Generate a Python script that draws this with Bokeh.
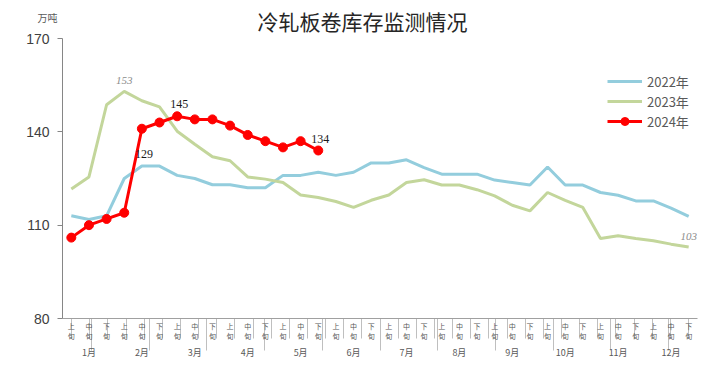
from bokeh.plotting import figure
from bokeh.models import FactorRange, FixedTicker, Legend, LegendItem, Label, ColumnDataSource, CategoricalAxis
from bokeh.core.properties import value
from bokeh.embed import file_html
from bokeh.resources import INLINE

months = [f"{i}月" for i in range(1, 13)]
xuns = ["上\n旬", "中\n旬", "下\n旬"]
factors = [(m, x) for m in months for x in xuns]

y2022 = [113, 111.8, 113, 125, 129, 129, 126, 125, 123, 123, 122, 122,
         126, 126, 127, 126, 127, 130, 130, 131, 128.5, 126.4, 126.4, 126.4,
         124.5, 123.7, 122.9, 128.7, 122.9, 122.9, 120.5, 119.6, 117.8, 117.8, 115.5, 112.8]
y2023 = [121.6, 125.5, 148.7, 153, 150, 148, 140.2, 136, 132, 130.7, 125.5, 124.8,
         123.7, 119.7, 118.9, 117.6, 115.7, 118, 119.7, 123.7, 124.6, 122.9, 122.9, 121.4,
         119.4, 116.4, 114.6, 120.5, 118, 115.7, 105.7, 106.6, 105.7, 105, 103.9, 103]
y2024 = [106, 110, 112, 114, 141, 143, 145, 144, 144, 142, 139, 137, 135, 137, 134]
y_ticks = [80, 110, 140, 170]
series_names = ["2022年", "2023年", "2024年"]
title_text = "冷轧板卷库存监测情况"
unit_text = "万吨"

C22, C23, C24 = "#93CDDD", "#C3D69B", "#FF0000"
FONT = "Noto Sans CJK SC"
SEP = "#BFBFBF"

p = figure(width=710, height=364, output_backend="svg", toolbar_location=None,
           x_range=FactorRange(*factors, range_padding=0, factor_padding=0,
                               subgroup_padding=0, group_padding=0),
           y_range=(80, 170), x_axis_type=None)
p.min_border_left = 62
p.min_border_right = 13
p.min_border_top = 38
p.min_border_bottom = 46
p.outline_line_color = None
p.xgrid.visible = False
p.ygrid.visible = False

# boundary ranges: one factor per category boundary / month boundary
b_xun = [f"b{i}" for i in range(len(factors) + 1)]
b_mon = [f"m{i}" for i in range(len(months) + 1)]
p.extra_x_ranges = {
    "bx": FactorRange(*b_xun, range_padding=-1, range_padding_units="absolute", factor_padding=0),
    "bm": FactorRange(*b_mon, range_padding=-1, range_padding_units="absolute", factor_padding=0),
}

def sep_axis(rname, length):
    ax = CategoricalAxis(x_range_name=rname)
    ax.axis_line_color = None
    ax.major_tick_line_color = SEP
    ax.major_tick_line_width = 1
    ax.major_tick_out = 0
    ax.major_tick_in = -length
    ax.minor_tick_line_color = None
    ax.major_label_text_font_size = "0px"
    ax.major_label_standoff = 0
    ax.major_label_text_alpha = 0
    return ax

p.add_layout(sep_axis("bx", 20), "below")
p.add_layout(sep_axis("bm", 32), "below")

xax = CategoricalAxis()
xax.axis_line_color = "#A0A0A0"
xax.major_tick_line_color = None
xax.major_tick_out = 0
xax.major_tick_in = 0
xax.minor_tick_line_color = None
xax.minor_tick_out = 0
xax.major_label_text_font = FONT
xax.major_label_text_font_size = "7px"
xax.major_label_text_color = "#595959"
xax.major_label_standoff = 2
xax.major_label_text_line_height = 1.0
xax.group_text_font = FONT
xax.group_text_font_size = "9px"
xax.group_text_color = "#595959"
xax.group_text_font_style = "normal"
xax.separator_line_color = None
p.add_layout(xax, "below")

yax = p.yaxis[0]
yax.ticker = FixedTicker(ticks=y_ticks)
yax.axis_line_color = "#868686"
yax.major_tick_line_color = "#868686"
yax.major_tick_out = 5
yax.major_tick_in = 0
yax.minor_tick_line_color = None
yax.major_label_text_font = "Liberation Sans"
yax.major_label_text_font_size = "14px"
yax.major_label_text_color = "#404040"
yax.major_label_standoff = 8

f22 = factors[:len(y2022)]
f23 = factors[:len(y2023)]
f24 = factors[:len(y2024)]
r22 = p.line(f22, y2022, line_color=C22, line_width=3)
r23 = p.line(f23, y2023, line_color=C23, line_width=3)
r24 = p.line(f24, y2024, line_color=C24, line_width=3)
r24m = p.scatter(f24, y2024, size=9, fill_color=C24, line_color=C24)

# data labels
lab_gray = ColumnDataSource(dict(x=[f23[3], f23[35]], y=[y2023[3], y2023[35]],
                                 t=[f"{y2023[3]:g}", f"{y2023[35]:g}"]))
p.text(x="x", y="y", text="t", source=lab_gray, text_font=value("Liberation Serif"),
       text_font_size="11px", text_font_style="italic", text_color="#8C8C8C",
       text_align="center", text_baseline="bottom", y_offset=-7)
lab_black = ColumnDataSource(dict(x=[f24[6], f24[14], f22[4]],
                                  y=[y2024[6], y2024[14], y2022[4]],
                                  t=[f"{y2024[6]:g}", f"{y2024[14]:g}", f"{y2022[4]:g}"]))
p.text(x="x", y="y", text="t", source=lab_black, text_font=value("Liberation Serif"),
       text_font_size="12px", text_color="#1A1A1A",
       text_align="center", text_baseline="bottom", x_offset=2, y_offset=-8)

legend = Legend(items=[LegendItem(label=series_names[0], renderers=[r22]),
                       LegendItem(label=series_names[1], renderers=[r23]),
                       LegendItem(label=series_names[2], renderers=[r24, r24m])],
                location=(545, 187), orientation="vertical")
legend.background_fill_alpha = 0
legend.border_line_color = None
legend.label_text_font = FONT
legend.label_text_font_size = "13px"
legend.label_text_color = "#595959"
legend.glyph_width = 35
legend.glyph_height = 20
legend.label_height = 20
legend.spacing = 0
legend.padding = 0
legend.margin = 0
legend.label_standoff = 5
p.add_layout(legend, "center")

p.add_layout(Label(x=300, y=17.5, x_units="screen", y_units="screen", text=title_text,
                   text_font=FONT, text_font_size="21px", text_color="#262626",
                   text_align="center", text_baseline="middle"), "above")
p.add_layout(Label(x=44, y=301, x_units="screen", y_units="screen", text=unit_text,
                   text_font=FONT, text_font_size="10px", text_color="#595959",
                   text_align="center", text_baseline="middle"), "left")

open("out.html", "w").write(file_html(p, INLINE))
